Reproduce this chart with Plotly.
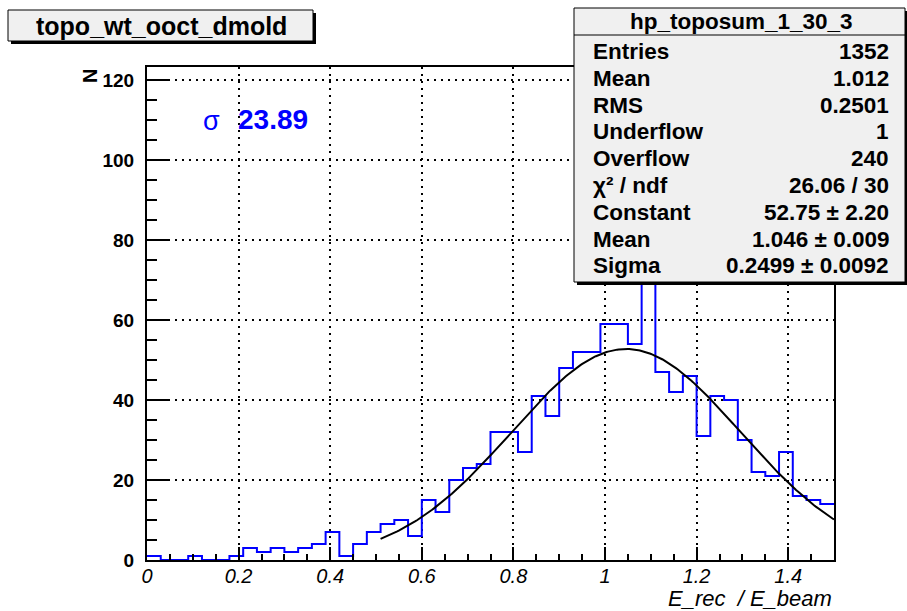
import numpy as np
import plotly.graph_objects as go

# ---- histogram: hp_toposum_1_30_3 (50 bins on [0, 1.5]) ----
x_low, x_high, n_bins = 0.0, 1.5, 50
counts = [1, 0, 0, 1, 0, 0, 1, 3, 2, 3,
          2, 3, 4, 7, 1, 4, 7, 9, 10, 6,
          15, 12, 20, 23, 24, 32, 32, 27, 41, 36,
          48, 52, 52, 59, 59, 54, 69, 47, 42, 46,
          31, 41, 40, 30, 22, 21, 27, 16, 15, 14]

# ---- gaussian fit results ----
fit_constant = 52.75
fit_mean = 1.046
fit_sigma = 0.2499
fit_range = (0.51, 1.5)

# ---- statistics box ----
stats_name = "hp_toposum_1_30_3"
stat_labels = ["Entries", "Mean", "RMS", "Underflow", "Overflow",
               "χ² / ndf", "Constant", "Mean", "Sigma"]
stat_values = ["1352", "1.012", "0.2501", "1", "240",
               "26.06 / 30", "52.75 ± 2.20", "1.046 ± 0.009", "0.2499 ± 0.0092"]

title_text = "topo_wt_ooct_dmold"
resolution_label = "σ"
resolution_value = "23.89"
x_title = "E_rec  / E_beam"
y_title = "N"

# ---- canvas geometry (pixels) ----
W, H = 907, 611
L, R, T, B = 147, 834, 67, 560
FONT = "Liberation Sans, Arial, Helvetica, sans-serif"


def px(xp):
    return (xp - L) / (R - L)


def py(yp):
    return (B - yp) / (B - T)


edges = np.linspace(x_low, x_high, n_bins + 1)
step_x = list(edges)
step_y = list(counts) + [counts[-1]]

fx = np.linspace(fit_range[0], fit_range[1], 300)
fy = fit_constant * np.exp(-0.5 * ((fx - fit_mean) / fit_sigma) ** 2)

fig = go.Figure()
fig.add_trace(go.Scatter(x=step_x, y=step_y, mode="lines", line_shape="hv",
                         line=dict(color="#0000ff", width=2), hoverinfo="skip"))
fig.add_trace(go.Scatter(x=fx, y=fy, mode="lines",
                         line=dict(color="black", width=2), hoverinfo="skip"))

y_max = (B - T) / 4.0

fig.update_layout(
    width=W, height=H,
    margin=dict(l=L, r=W - R, t=T, b=H - B, pad=0),
    paper_bgcolor="white", plot_bgcolor="white",
    showlegend=False,
    font=dict(family=FONT, color="black"),
)

grid_dash = "2px,5px"
fig.update_xaxes(
    range=[x_low, x_high], tickmode="linear", tick0=0, dtick=0.2,
    ticks="inside", ticklen=13, tickwidth=2, tickcolor="black",
    minor=dict(dtick=0.05, tick0=0, ticks="inside", ticklen=6,
               tickwidth=2, tickcolor="black", showgrid=False),
    showgrid=True, gridcolor="black", gridwidth=1.5, griddash=grid_dash,
    zeroline=False, showline=True, linecolor="black", linewidth=2, mirror=True,
    tickfont=dict(family=FONT, size=20, style="italic", color="black"),
    ticklabelstandoff=-3,
)
fig.update_yaxes(
    range=[0, y_max], tickmode="linear", tick0=0, dtick=20,
    ticks="inside", ticklen=21, tickwidth=2, tickcolor="black",
    minor=dict(dtick=5, tick0=0, ticks="inside", ticklen=10,
               tickwidth=2, tickcolor="black", showgrid=False),
    showgrid=True, gridcolor="black", gridwidth=1.5, griddash=grid_dash,
    zeroline=False, showline=True, linecolor="black", linewidth=2, mirror=True,
    tickfont=dict(family=FONT, size=19, weight="bold", color="black"),
    ticklabelstandoff=7,
)

shapes = []
annotations = []

# title box with drop shadow
shapes.append(dict(type="rect", xref="paper", yref="paper", layer="above",
                   x0=px(11), x1=px(316), y0=py(44), y1=py(13),
                   fillcolor="black", line=dict(width=0)))
shapes.append(dict(type="rect", xref="paper", yref="paper", layer="above",
                   x0=px(8), x1=px(313), y0=py(41), y1=py(10),
                   fillcolor="#f0f0f0", line=dict(color="black", width=1)))
annotations.append(dict(xref="paper", yref="paper", x=px(161), y=py(26),
                        xanchor="center", yanchor="middle", showarrow=False,
                        text=title_text,
                        font=dict(family=FONT, size=25, weight="bold", color="black")))

# statistics box with drop shadow
shapes.append(dict(type="rect", xref="paper", yref="paper", layer="above",
                   x0=px(577), x1=px(909), y0=py(285), y1=py(11),
                   fillcolor="black", line=dict(width=0)))
shapes.append(dict(type="rect", xref="paper", yref="paper", layer="above",
                   x0=px(574), x1=px(905), y0=py(282), y1=py(8),
                   fillcolor="#f0f0f0", line=dict(color="black", width=1)))
shapes.append(dict(type="line", xref="paper", yref="paper", layer="above",
                   x0=px(574), x1=px(905), y0=py(35), y1=py(35),
                   line=dict(color="black", width=1)))
annotations.append(dict(xref="paper", yref="paper", x=px(741), y=py(22),
                        xanchor="center", yanchor="middle", showarrow=False,
                        text=stats_name,
                        font=dict(family=FONT, size=22.5, weight="bold", color="black")))
row_y0, row_dy = 51.5, 26.8
for i, (lab, val) in enumerate(zip(stat_labels, stat_values)):
    yc = row_y0 + i * row_dy
    annotations.append(dict(xref="paper", yref="paper", x=px(591), y=py(yc),
                            xanchor="left", yanchor="middle", showarrow=False,
                            text=lab,
                            font=dict(family=FONT, size=22.5, weight="bold", color="black")))
    annotations.append(dict(xref="paper", yref="paper", x=px(891), y=py(yc),
                            xanchor="right", yanchor="middle", showarrow=False,
                            text=val,
                            font=dict(family=FONT, size=22.5, weight="bold", color="black")))

# resolution label
annotations.append(dict(xref="paper", yref="paper", x=px(211), y=py(121),
                        xanchor="center", yanchor="middle", showarrow=False,
                        text=resolution_label,
                        font=dict(family=FONT, size=27, color="#0000ff")))
annotations.append(dict(xref="paper", yref="paper", x=px(236), y=py(119),
                        xanchor="left", yanchor="middle", showarrow=False,
                        text=resolution_value,
                        font=dict(family=FONT, size=28, weight="bold", color="#0000ff")))

# axis titles
annotations.append(dict(xref="paper", yref="paper", x=px(834), y=py(598),
                        xanchor="right", yanchor="middle", showarrow=False,
                        text=x_title,
                        font=dict(family=FONT, size=22, style="italic", color="black")))
annotations.append(dict(xref="paper", yref="paper", x=px(90), y=py(67),
                        xanchor="center", yanchor="top", showarrow=False,
                        text=y_title, textangle=-90,
                        font=dict(family=FONT, size=20, weight="bold", color="black")))

fig.update_layout(shapes=shapes, annotations=annotations)

fig.write_html("out.html")
